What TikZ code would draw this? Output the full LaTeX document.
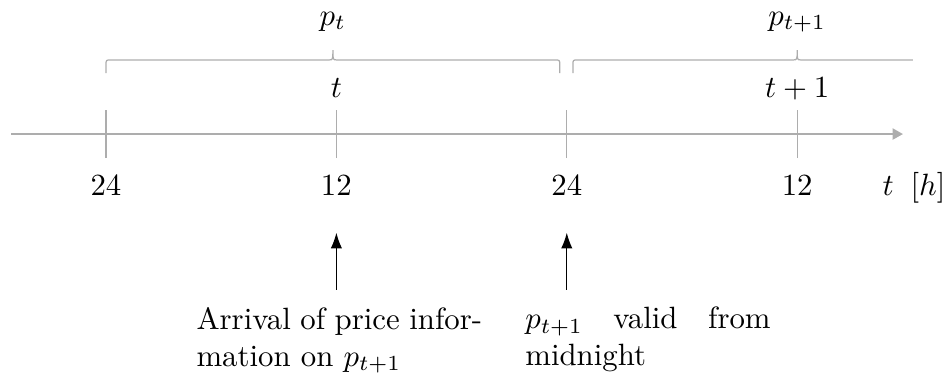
\documentclass[tikz,border=0pt]{standalone}
\usepackage{amsmath}
\usetikzlibrary{arrows.meta}

% llave horizontal: #1 inicio, #2 fin, #3 altura de los extremos
\newcommand{\dibujallave}[3]{%
  \draw[gris] (#1,#3) -- ++(0,0.09) .. controls +(0,0.06) .. ++(0.06,0.06)
    -- ({(#1+#2)/2-0.045},#3+0.15) .. controls ({(#1+#2)/2},#3+0.15) .. ({(#1+#2)/2},#3+0.263)
    .. controls ({(#1+#2)/2},#3+0.15) .. ({(#1+#2)/2+0.045},#3+0.15)
    -- ({#2-0.06},#3+0.15) .. controls (#2,#3+0.15) .. (#2,#3+0.09) -- (#2,#3);}

\begin{document}
\begin{tikzpicture}[line width=0.4pt,>={Latex[length=1.8mm,width=1.3mm]},
    gris/.style={black!32},
    texto/.style={anchor=north west,inner sep=0pt,align=justify}]
  \useasboundingbox (-1.21,-2.717) rectangle (9.623,1.530);
  % eje de tiempo
  \draw[gris,line width=0.7pt,-{Triangle[length=3.4pt,width=3.6pt]}] (-1.084,0) -- (9.098,0);
  \foreach \x/\l [count=\i] in {0/24,2.63/12,5.26/24,7.89/12}{
     \draw[gris] (\x,-0.274) -- (\x,0.274);
     \node[anchor=base] (h\i) at (\x,-0.696) {$\l$};}
  \node[anchor=base east,inner sep=0pt] (unidad) at (9.59,-0.696) {$t\hspace{0.55em}[h]$};
  % periodos y precios
  \node[anchor=base] (t0) at (2.63,0.422) {$t$};
  \node[anchor=base] (t1) at (7.89,0.422) {$t+1$};
  \dibujallave{0}{5.18}{0.696}
  \node[anchor=base] (p0) at (2.59,1.244) {$p_t$};
  \begin{scope}
    \clip (-1.21,0) rectangle (9.21,1.53);
    \dibujallave{5.33}{10.45}{0.696}
  \end{scope}
  \node[anchor=base] (p1) at (7.89,1.244) {$p_{t+1}$};
  % notas
  \node[texto,text width=3.26cm] (aviso) at (1.027,-1.97)
     {Arrival of price infor-\linebreak mation on $p_{t+1}$};
  \node[texto,text width=2.8cm] (valido) at (4.78,-1.97)
     {$p_{t+1}$ valid from\linebreak midnight};
  \draw[->] ([yshift=5.4pt]aviso.north -| h2) -- ([yshift=-8.7pt]h2.south);
  \draw[->] ([yshift=5.4pt]valido.north -| h3) -- ([yshift=-8.7pt]h3.south);
\end{tikzpicture}
\end{document}
